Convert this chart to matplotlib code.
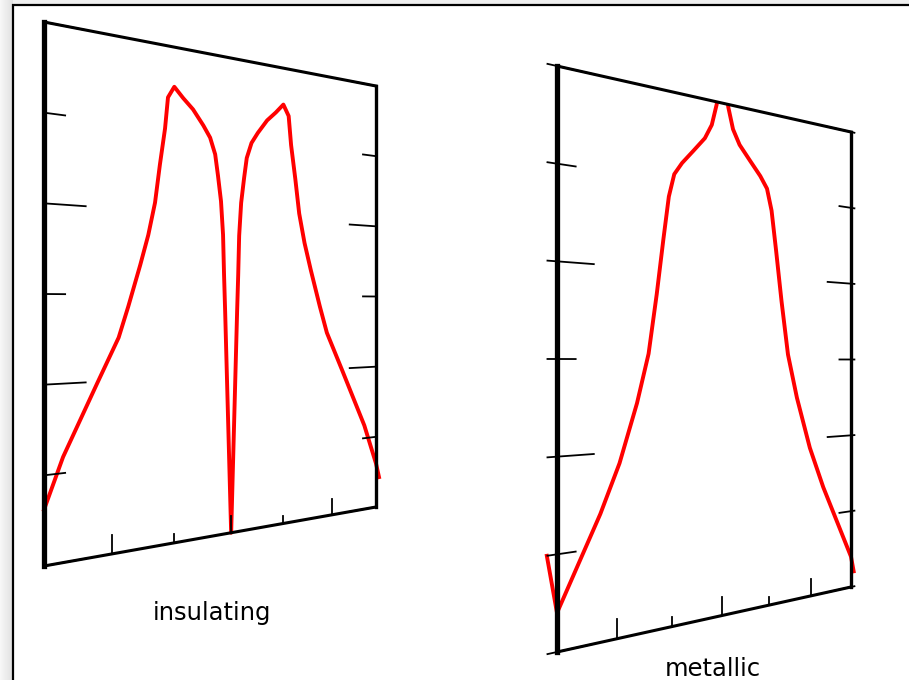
import numpy as np
import matplotlib
matplotlib.use("Agg")
import matplotlib.pyplot as plt
import matplotlib.transforms as mtransforms
from matplotlib.patches import Polygon, Rectangle

# ---- data, x in [-3, 3], y in [0, 3] ----
ins_x = [-3.0, -2.73, -2.48, -2.23, -1.90, -1.75, -1.56, -1.43, -1.32, -1.24, -1.155, -1.106,
         -1.0, -0.85, -0.68, -0.50, -0.38, -0.29, -0.24, -0.185, -0.148, -0.13, -0.11, 0.0,
         0.11, 0.13, 0.148, 0.185, 0.24, 0.29, 0.38, 0.50, 0.68, 0.85, 1.0,
         1.106, 1.155, 1.24, 1.32, 1.43, 1.56, 1.75, 1.90, 2.23, 2.48, 2.73, 3.0, 3.07]
ins_y = [0.31, 0.59, 0.79, 0.99, 1.25, 1.43, 1.675, 1.855, 2.05, 2.28, 2.50, 2.69,
         2.76, 2.70, 2.64, 2.55, 2.48, 2.38, 2.25, 2.09, 1.88, 1.63, 1.40, 0.0,
         1.40, 1.63, 1.88, 2.09, 2.25, 2.38, 2.48, 2.55, 2.64, 2.70, 2.76,
         2.69, 2.50, 2.28, 2.05, 1.855, 1.675, 1.43, 1.25, 0.99, 0.79, 0.59, 0.31, 0.21]

met_x = [-3.16, -3.0, -2.66, -2.29, -1.96, -1.65, -1.44, -1.29, -1.165, -1.063, -0.96,
         -0.81, -0.59, -0.36, -0.22, -0.12, 0.0,
         0.12, 0.22, 0.36, 0.59, 0.81, 0.96, 1.063, 1.165, 1.29, 1.44, 1.65,
         1.96, 2.29, 2.66, 3.0, 3.07]
met_y = [0.50, 0.20, 0.43, 0.68, 0.94, 1.26, 1.53, 1.86, 2.17, 2.41, 2.54,
         2.61, 2.69, 2.775, 2.86, 2.985, 3.30,
         2.985, 2.86, 2.775, 2.69, 2.61, 2.54, 2.41, 2.17, 1.86, 1.53, 1.26,
         0.94, 0.68, 0.43, 0.20, 0.10]

x_major = [-2, 0, 2]
x_minor = [-1, 1]
y_major = [0, 1, 2, 3]
y_minor = [0.5, 1.5, 2.5]
xlim = (-3, 3)
ylim = (0, 3)

# ---- layout: panel corners in pixels (bottom-left, bottom-right, top-right, top-left)
left_box = [(44, 566), (376, 507), (376, 86), (44, 22)]
right_box = [(557, 652), (851, 587), (851, 132), (557, 66)]


def homography(corners):
    src = [(0, 0), (1, 0), (1, 1), (0, 1)]
    A, b = [], []
    for (u, v), (X, Y) in zip(src, corners):
        A.append([u, v, 1, 0, 0, 0, -u * X, -v * X]); b.append(X)
        A.append([0, 0, 0, u, v, 1, -u * Y, -v * Y]); b.append(Y)
    h = np.linalg.solve(np.array(A, float), np.array(b, float))
    return np.append(h, 1).reshape(3, 3)


class Persp(mtransforms.Transform):
    input_dims = output_dims = 2
    is_separable = False
    has_inverse = False

    def __init__(self, H):
        super().__init__()
        self.H = H

    def transform_non_affine(self, values):
        values = np.asarray(values, float).reshape(-1, 2)
        p = np.column_stack([values, np.ones(len(values))]) @ self.H.T
        return p[:, :2] / p[:, 2:3]


fig = plt.figure(figsize=(9.09, 6.80), dpi=100)
fig.patch.set_facecolor("#efefef")
ax = fig.add_axes([0, 0, 1, 1])
ax.set_xlim(0, 909)
ax.set_ylim(680, 0)
ax.axis("off")

# window-like frame with a soft shadow at the left
grad = np.linspace(0.97, 0.88, 50)[None, :]
ax.imshow(grad, cmap="gray", vmin=0, vmax=1, extent=(0, 13, 680, 0), aspect="auto", zorder=0)
ax.add_patch(Rectangle((13, 5), 1000, 1000, facecolor="white", edgecolor="black", lw=1.6, zorder=0.5))

xs = xlim[1] - xlim[0]
ys = ylim[1] - ylim[0]


def draw_panel(box, cx, cy, label, label_xy, out):
    to_unit = mtransforms.Affine2D().translate(-xlim[0], -ylim[0]).scale(1 / xs, 1 / ys)
    trans = to_unit + Persp(homography(box)) + ax.transData

    clip = Polygon([(xlim[0] - 1, ylim[0] - 0.05), (xlim[1] + 1, ylim[0] - 0.05),
                    (xlim[1] + 1, ylim[1]), (xlim[0] - 1, ylim[1])],
                   closed=True, transform=trans, facecolor="none", edgecolor="none")
    ax.add_patch(clip)
    line, = ax.plot(cx, cy, color="#ff0000", lw=2.8, transform=trans, zorder=2)
    line.set_clip_path(clip)

    # frame
    k = dict(color="black", transform=trans, zorder=3, solid_capstyle="projecting")
    ax.plot([xlim[0], xlim[0]], [ylim[0], ylim[1]], lw=3.8, **k)
    ax.plot([xlim[1], xlim[1]], [ylim[0], ylim[1]], lw=2.4, **k)
    ax.plot([xlim[0], xlim[1]], [ylim[1], ylim[1]], lw=2.2, **k)
    ax.plot([xlim[0], xlim[1]], [ylim[0], ylim[0]], lw=2.2, **k)

    # ticks
    t = dict(color="black", transform=trans, zorder=3, lw=1.3)
    for vals, ln in ((y_major, 0.10), (y_minor, 0.05)):
        for yt in vals:
            ax.plot([xlim[0] - out * xs, xlim[0] + ln * xs], [yt, yt], **t)
            ax.plot([xlim[1] - ln * xs, xlim[1] + out * xs * 0.6], [yt, yt], **t)
    for vals, ln in ((x_major, 0.036), (x_minor, 0.017)):
        for xt in vals:
            ax.plot([xt, xt], [ylim[0], ylim[0] + ln * ys], **t)

    ax.text(label_xy[0], label_xy[1], label, fontsize=17.5, ha="center", va="baseline",
            family="DejaVu Sans", zorder=4)


draw_panel(left_box, ins_x, ins_y, "insulating", (212, 620), 0.0)
draw_panel(right_box, met_x, met_y, "metallic", (713, 676), 0.025)

fig.savefig("out.png", dpi=100)
